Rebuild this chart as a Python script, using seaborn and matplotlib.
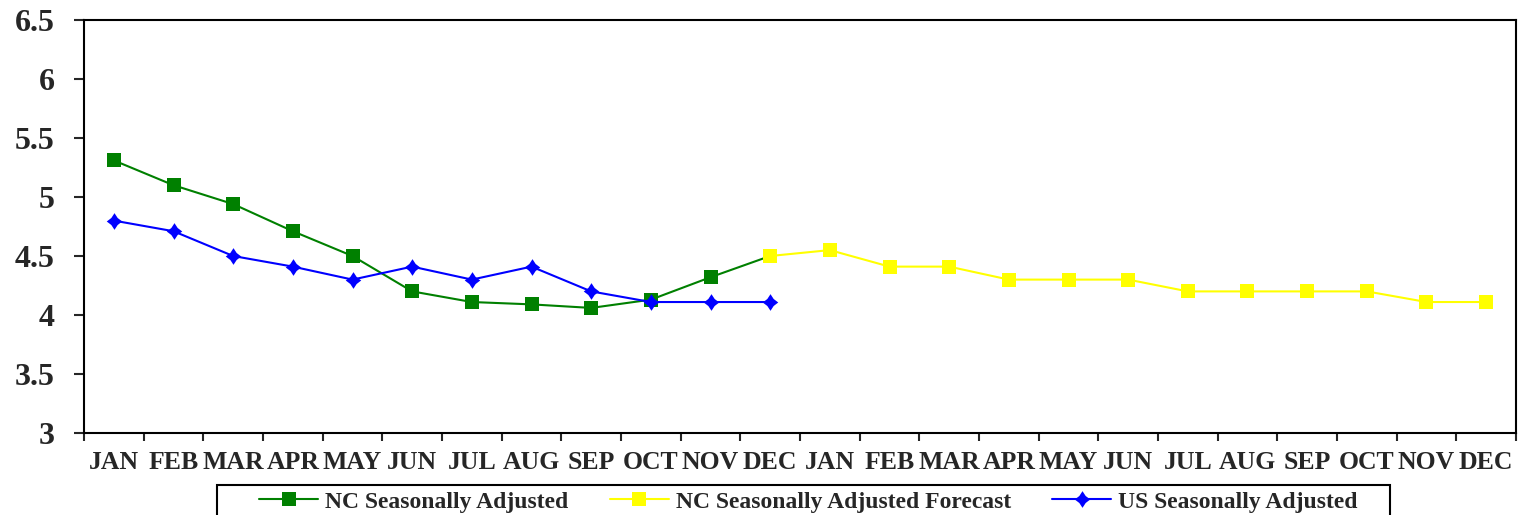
import matplotlib
matplotlib.use('Agg')
import matplotlib.pyplot as plt
from matplotlib.patches import Rectangle
from matplotlib.path import Path
from matplotlib.ticker import FixedLocator, FuncFormatter
import seaborn as sns
import pandas as pd

# data
months = ['JAN', 'FEB', 'MAR', 'APR', 'MAY', 'JUN',
          'JUL', 'AUG', 'SEP', 'OCT', 'NOV', 'DEC'] * 2
nc_adj = [5.31, 5.1, 4.94, 4.71, 4.5, 4.2, 4.11, 4.09, 4.06, 4.13, 4.32, 4.5]
nc_forecast = [4.5, 4.55, 4.41, 4.41, 4.3, 4.3, 4.3, 4.2, 4.2, 4.2, 4.2, 4.11, 4.11]
us_adj = [4.8, 4.71, 4.5, 4.41, 4.3, 4.41, 4.3, 4.41, 4.2, 4.11, 4.11, 4.11]

df_nc = pd.DataFrame({'pos': range(len(nc_adj)), 'val': nc_adj})
df_fc = pd.DataFrame({'pos': range(11, 11 + len(nc_forecast)), 'val': nc_forecast})
df_us = pd.DataFrame({'pos': range(len(us_adj)), 'val': us_adj})

sns.set_theme(style='white')
plt.rcParams['font.family'] = ['Liberation Serif', 'DejaVu Serif']
plt.rcParams['font.weight'] = 'bold'

# diamond with slightly pinched sides, like the Excel one
diamond = Path([(0, 1), (0.38, 0.42), (0.93, 0), (0.38, -0.42), (0, -1),
                (-0.38, -0.42), (-0.93, 0), (-0.38, 0.42), (0, 1)],
               [Path.MOVETO] + [Path.LINETO] * 7 + [Path.CLOSEPOLY])

fig = plt.figure(figsize=(15.26, 5.15), dpi=100)
ax = fig.add_axes([84 / 1526, 1 - 433 / 515, 1432 / 1526, 413 / 515])

sns.lineplot(data=df_nc, x='pos', y='val', ax=ax, color='#008000', lw=1.5,
             marker='s', markersize=9.5, markeredgewidth=0,
             label='NC Seasonally Adjusted')
sns.lineplot(data=df_fc, x='pos', y='val', ax=ax, color='#FFFF00', lw=1.5,
             marker='s', markersize=9.5, markeredgewidth=0,
             label='NC Seasonally Adjusted Forecast')
sns.lineplot(data=df_us, x='pos', y='val', ax=ax, color='#0000FF', lw=1.5,
             marker=diamond, markersize=12, markeredgewidth=0,
             label='US Seasonally Adjusted')

ax.set_xlim(-0.5, len(months) - 0.5)
ax.set_ylim(3, 6.5)
ax.set_xlabel('')
ax.set_ylabel('')

# ticks between months, labels at the month centres
ax.xaxis.set_major_locator(FixedLocator([i - 0.5 for i in range(len(months) + 1)]))
ax.xaxis.set_major_formatter(FuncFormatter(lambda v, p: ''))
ax.xaxis.set_minor_locator(FixedLocator(list(range(len(months)))))
ax.set_xticklabels(months, minor=True)
ax.tick_params(axis='x', which='major', direction='out', length=6, width=1.5, bottom=True)
ax.tick_params(axis='x', which='minor', length=0, pad=13, labelsize=18.5)
for t in ax.get_xticklabels(minor=True):
    t.set_fontweight('bold')

ax.set_yticks([3, 3.5, 4, 4.5, 5, 5.5, 6, 6.5])
ax.yaxis.set_major_formatter(FuncFormatter(lambda v, p: f'{v:g}'))
ax.tick_params(axis='y', direction='out', length=7, width=1.5, left=True, labelsize=23, pad=14)
for t in ax.get_yticklabels():
    t.set_fontweight('bold')

for s in ax.spines.values():
    s.set_color('black')
    s.set_linewidth(1.5)

# legend box drawn separately, legend entries placed inside it
fig.patches.append(Rectangle((217 / 1526, -0.05), 1173 / 1526, 0.05 + 1 - 485 / 515,
                             transform=fig.transFigure, fill=False,
                             edgecolor='black', linewidth=1.5))
ax.get_legend().remove()
handles, labels = ax.get_legend_handles_labels()
fig.legend(handles, labels, loc='upper left', ncol=3,
           bbox_to_anchor=(259 / 1526, 1 - 491 / 515),
           frameon=False, prop={'size': 17, 'weight': 'bold'},
           handlelength=2.5, handletextpad=0.3, columnspacing=1.75,
           borderpad=0, borderaxespad=0)

fig.savefig('out.png', dpi=100)
